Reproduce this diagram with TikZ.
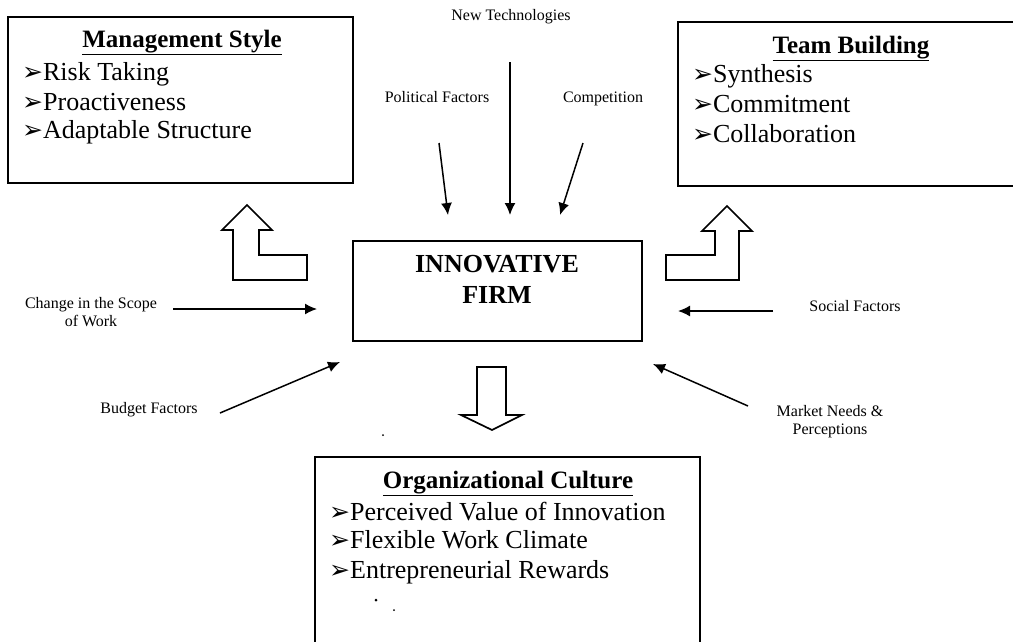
\documentclass[tikz,border=0pt]{standalone}
\usepackage{fontspec}
\setmainfont{Liberation Serif}
\newfontfamily\bulletfont{DejaVu Sans}
\usetikzlibrary{arrows.meta,positioning}
\newcommand{\itembullet}{{\bulletfont\fontsize{25}{25}\selectfont ➢}}
\tikzset{panel/.style={draw, line width=1.7pt, inner sep=0pt},
  head/.style={anchor=base, inner sep=0pt, font=\fontsize{25}{29}\selectfont\bfseries},
  item/.style={anchor=base west, inner sep=0pt, font=\fontsize{26}{30}\selectfont},
  firmtext/.style={anchor=base, inner sep=0pt, font=\fontsize{26}{30}\selectfont\bfseries},
  factor/.style={align=center, inner sep=0pt, font=\fontsize{16}{18}\selectfont},
  flow/.style={line width=1.5pt, -{Latex[length=12pt,width=11pt]}},
  bigarrow/.style={draw, line width=1.7pt, line join=miter}}

\begin{document}
\begin{tikzpicture}[x=1pt,y=-1pt]
  \useasboundingbox (0,0) rectangle (1013,641);
  \clip (0,0) rectangle (1013,641);
  % boxes
  \node[panel, minimum width=345, minimum height=166] (mgmt) at (180.5,100) {};
  \node[panel, minimum width=346, minimum height=164] (team) at (851,104) {};
  \node[panel, minimum width=289, minimum height=100] (firm) at (497.5,291) {};
  \node[panel, minimum width=385, minimum height=203] (culture) at (507.5,558.5) {};

  \node[head] (mgmt-t) at (182,47) {\underline{Management Style}};
  \node[item] (mgmt-1) at (22,80) {\itembullet Risk Taking};
  \node[item] (mgmt-2) at (22,110) {\itembullet Proactiveness};
  \node[item] (mgmt-3) at (22,138) {\itembullet Adaptable Structure};

  \node[head] (team-t) at (851,53) {\underline{Team Building}};
  \node[item] (team-1) at (692,82) {\itembullet Synthesis};
  \node[item] (team-2) at (692,112) {\itembullet Commitment};
  \node[item] (team-3) at (692,142) {\itembullet Collaboration};

  \node[firmtext] (firm-1) at (497,272) {INNOVATIVE};
  \node[firmtext] (firm-2) at (497,303) {FIRM};

  \node[head] (culture-t) at (508,488) {\underline{Organizational Culture}};
  \node[item] (culture-1) at (329,520) {\itembullet Perceived Value of Innovation};
  \node[item] (culture-2) at (329,548) {\itembullet Flexible Work Climate};
  \node[item] (culture-3) at (329,578) {\itembullet Entrepreneurial Rewards};

  % outside factors
  \node[factor, anchor=base] (newtech) at (511,20) {New Technologies};
  \node[factor, anchor=base] (political) at (437,102) {Political Factors};
  \node[factor, anchor=base] (competition) at (603,102) {Competition};
  \node[factor] (scope) at (91,312) {Change in the Scope\\of Work};
  \node[factor, anchor=base] (budget) at (149,413) {Budget Factors};
  \node[factor, anchor=base] (social) at (855,311) {Social Factors};
  \node[factor] (market) at (830,422) {Market Needs \&\\Perceptions};

  \coordinate (nt-a) at (510,62);   \coordinate (nt-b) at (510,215);
  \coordinate (pf-a) at (439,143);  \coordinate (pf-b) at (448,215);
  \coordinate (co-a) at (583,143);  \coordinate (co-b) at (560,215);
  \coordinate (sc-a) at (173,309);  \coordinate (sc-b) at (317,309);
  \coordinate (bf-a) at (220,413);  \coordinate (bf-b) at (340,362);
  \coordinate (sf-a) at (773,311);  \coordinate (sf-b) at (678,311);
  \coordinate (mn-a) at (748,406);  \coordinate (mn-b) at (653,364);
  \draw[flow] (nt-a) -- (nt-b);
  \draw[flow] (pf-a) -- (pf-b);
  \draw[flow] (co-a) -- (co-b);
  \draw[flow] (sc-a) -- (sc-b);
  \draw[flow] (bf-a) -- (bf-b);
  \draw[flow] (sf-a) -- (sf-b);
  \draw[flow] (mn-a) -- (mn-b);

  % block arrows
  \draw[bigarrow] (247,205) -- (272,230) -- (259,230) -- (259,255) -- (307,255)
    -- (307,280) -- (233,280) -- (233,230) -- (222,230) -- cycle;
  \draw[bigarrow] (727,206) -- (752,231) -- (739,231) -- (739,280) -- (666,280)
    -- (666,255) -- (715,255) -- (715,231) -- (702,231) -- cycle;
  \draw[bigarrow] (477,367) -- (506,367) -- (506,415) -- (522,415) -- (492,430)
    -- (461,415) -- (477,415) -- cycle;

  \fill (383,435) circle (1);
  \fill (376,600) circle (1.5);
  \fill (394,610) circle (1);
\end{tikzpicture}
\end{document}
